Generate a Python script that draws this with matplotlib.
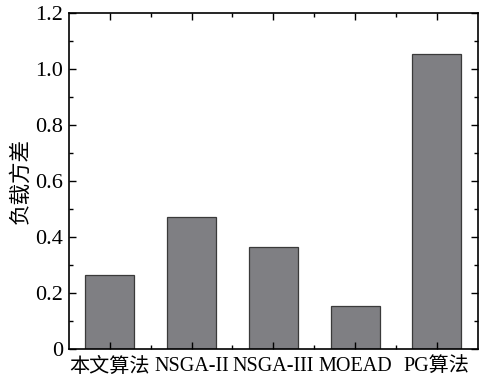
import matplotlib.pyplot as plt
from matplotlib.ticker import MultipleLocator, FuncFormatter, FixedLocator

plt.rcParams['font.family'] = ['Liberation Serif', 'Noto Sans CJK SC']
plt.rcParams['axes.unicode_minus'] = False

algorithms = ['本文算法', 'NSGA-II', 'NSGA-III', 'MOEAD', 'PG算法']
load_variance = [0.265, 0.472, 0.363, 0.155, 1.056]

fig = plt.figure(figsize=(4.85, 3.77), dpi=100)
ax = fig.add_axes([0.142, 0.074, 0.843, 0.891])

x = list(range(len(algorithms)))
ax.bar(x, load_variance, width=0.6, color='#7f7f83', edgecolor='#3a3a3a', linewidth=0.9)

ax.set_xlim(-0.5, len(algorithms) - 0.5)
ax.set_ylim(0, 1.2)
ax.set_xticks(x)
ax.set_xticklabels(algorithms, fontsize=14.5)
ax.xaxis.set_minor_locator(FixedLocator([i + 0.5 for i in range(len(algorithms) - 1)]))
ax.yaxis.set_major_locator(MultipleLocator(0.2))
ax.yaxis.set_minor_locator(MultipleLocator(0.1))
ax.yaxis.set_major_formatter(FuncFormatter(lambda v, p: '0' if abs(v) < 1e-9 else f'{v:.1f}'))
ax.tick_params(axis='y', labelsize=16, pad=4)
ax.tick_params(axis='x', pad=6)
ax.tick_params(which='both', direction='in', top=True, right=True, width=1.0)
ax.tick_params(which='major', length=5)
ax.tick_params(which='minor', length=3)

for s in ax.spines.values():
    s.set_linewidth(1.2)

ax.set_ylabel('负载方差', fontsize=15.5, labelpad=3)

fig.savefig('out.png', dpi=100)
